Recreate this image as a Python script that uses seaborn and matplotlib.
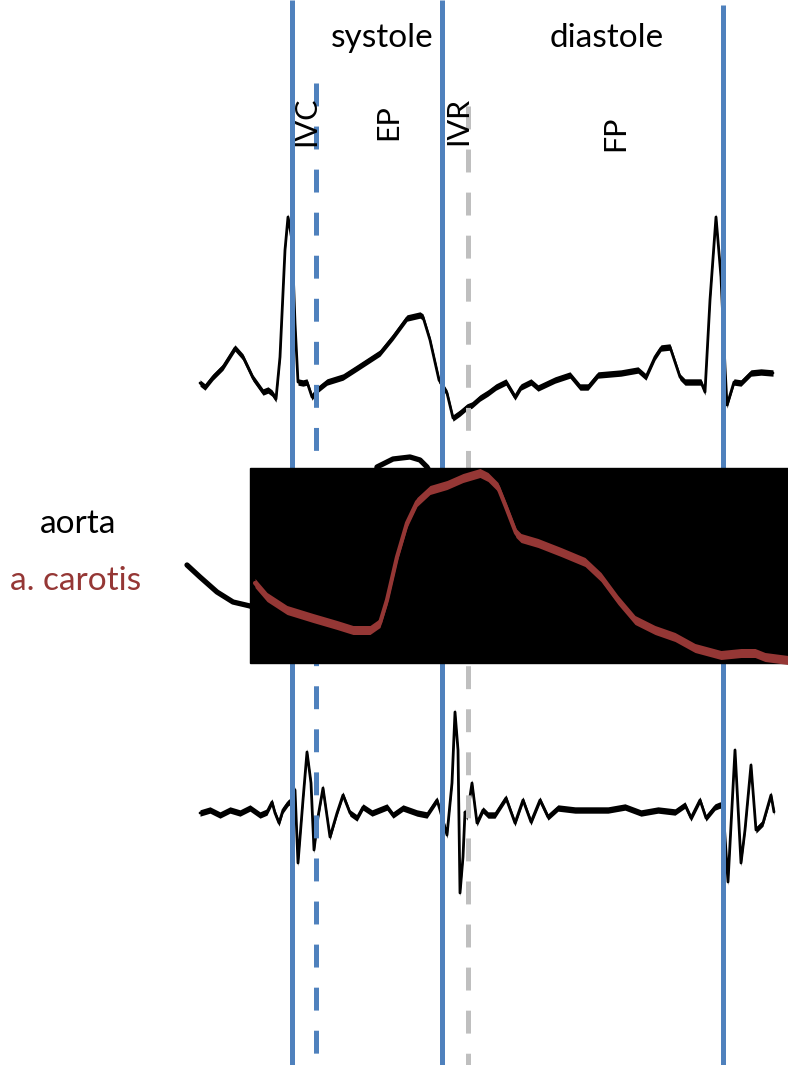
import numpy as np
import matplotlib
matplotlib.use("Agg")
import matplotlib.pyplot as plt
from matplotlib.patches import Rectangle
import seaborn as sns

sns.set_style("white")
plt.rcParams['font.family'] = ['Lato', 'DejaVu Sans']
plt.rcParams['lines.scale_dashes'] = False
plt.rcParams['text.color'] = 'black'

# canvas in pixel units (x = time axis, y grows downward)
W, H = 788, 1065

# ECG trace
ecg_x = [200, 205, 213, 223, 235, 243, 253, 263, 268, 272, 276, 280, 285, 288, 292, 295, 298,
         303, 307, 312, 317, 327, 343, 357, 380, 393, 407, 420, 423, 430, 439, 447, 453, 460,
         467, 472, 480, 488, 496, 506, 515, 521, 531, 538, 555, 570, 580, 588, 598, 621, 638,
         646, 655, 661, 670, 680, 685, 701, 705, 710, 716, 721, 725, 727, 734, 741, 751, 761, 773]
ecg_y = [383, 387, 377, 367, 348, 357, 378, 392, 390, 393, 399, 357, 250, 217, 240, 323, 382,
         383, 382, 397, 390, 382, 377, 368, 353, 337, 318, 315, 317, 340, 380, 393, 418, 413,
         407, 405, 398, 393, 387, 382, 397, 387, 382, 388, 380, 375, 387, 387, 375, 373, 370,
         377, 357, 348, 347, 377, 382, 382, 392, 300, 217, 277, 367, 405, 382, 383, 373, 372, 373]

# aorta pressure (mostly hidden behind the black panel)
aorta_x = [187, 200, 217, 233, 250, 300, 350, 365, 377, 393, 410, 420, 427, 440, 470, 520, 600, 700, 788]
aorta_y = [565, 577, 592, 602, 606, 625, 630, 600, 467, 459, 457, 460, 467, 490, 540, 560, 610, 640, 650]

# a. carotis pressure
carotis_x = [255, 267, 287, 313, 337, 353, 370, 380, 387, 397, 407, 417, 430, 447, 463, 480, 488,
             498, 506, 516, 521, 538, 561, 585, 601, 618, 635, 655, 675, 695, 721, 741, 755, 765, 788]
carotis_y = [583, 597, 610, 618, 625, 630, 630, 623, 600, 557, 523, 502, 490, 485, 478, 473, 477,
             487, 507, 533, 538, 543, 552, 562, 577, 600, 620, 630, 637, 648, 655, 653, 653, 657, 660]

# phonocardiogram
pcg_x = [200, 210, 220, 230, 240, 250, 260, 267, 272, 275, 279, 283, 288, 292, 295, 298, 303, 307,
         311, 314, 318, 323, 330, 337, 343, 350, 357, 363, 372, 387, 393, 403, 417, 427, 437, 440,
         447, 452, 455, 458, 460, 463, 465, 467, 472, 477, 483, 488, 495, 506, 515, 523, 531, 540,
         548, 558, 575, 591, 608, 625, 641, 658, 675, 685, 691, 700, 706, 715, 720, 723, 728, 735,
         741, 745, 751, 756, 763, 771, 774]
pcg_y = [813, 810, 815, 810, 813, 808, 815, 812, 802, 813, 823, 810, 803, 800, 790, 863, 800, 752,
         783, 850, 817, 788, 837, 813, 795, 813, 818, 807, 813, 807, 815, 808, 813, 815, 800, 810,
         835, 783, 712, 750, 893, 857, 812, 817, 783, 823, 810, 815, 815, 798, 823, 800, 822,
         800, 817, 808, 810, 810, 810, 807, 813, 810, 812, 805, 818, 800, 818, 807, 805, 807, 882,
         750, 863, 830, 765, 830, 823, 795, 812]

# phase boundaries
solid_x = [292, 442, 723]
solid_top = [0, 0, 5]
ivc_x, ivc_top = 316, 83
ivr_x, ivr_top = 468, 106

# black panel behind the carotis trace
panel_x0, panel_x1 = 250, 788
panel_y0, panel_y1 = 468, 663

phase_labels = ['systole', 'diastole']
phase_pos = [(382, 47), (607, 47)]
sub_labels = ['IVC', 'EP', 'IVR', 'FP']
sub_pos = [(306, 121), (388, 122), (458, 121), (615, 133)]

blue = '#4F81BD'
grey = '#BFBFBF'
red = '#953735'

fig = plt.figure(figsize=(W / 100, H / 100), dpi=100)
ax = fig.add_axes([0, 0, 1, 1])


def trace(x, y, half, lw, color, z):
    x = np.array(x, float)
    y = np.array(y, float)
    ax.fill_between(x, y - half, y + half, color=color, lw=0, zorder=z)
    sns.lineplot(x=x, y=y, sort=False, estimator=None, color=color, lw=lw,
                 ax=ax, zorder=z)


trace(ecg_x, ecg_y, 3.2, 2.0, 'black', 1)
trace(pcg_x, pcg_y, 3.2, 2.0, 'black', 1)
sns.lineplot(x=aorta_x, y=aorta_y, sort=False, estimator=None, color='black', lw=3.8,
             ax=ax, zorder=1)

for x, top in zip(solid_x, solid_top):
    ax.plot([x, x], [top, H], color=blue, lw=3.6, solid_capstyle='butt', zorder=2)
ax.plot([ivc_x, ivc_x], [ivc_top, H], color=blue, lw=3.6, dashes=(16.5, 14.5), zorder=2)
ax.plot([ivr_x, ivr_x], [ivr_top, H], color=grey, lw=3.6, dashes=(16.5, 14.5), zorder=2)

ax.add_patch(Rectangle((panel_x0, panel_y0), panel_x1 - panel_x0, panel_y1 - panel_y0,
                       color='black', zorder=3))
trace(carotis_x, carotis_y, 4.5, 3.0, red, 4)

for lab, (x, y) in zip(phase_labels, phase_pos):
    ax.text(x, y, lab, fontsize=24, ha='center', va='baseline', color='black', zorder=5)
for lab, (x, y) in zip(sub_labels, sub_pos):
    ax.text(x, y, lab, fontsize=22, ha='center', va='center', rotation=90,
            color='black', zorder=5)

ax.text(78, 533, 'aorta', fontsize=24, ha='center', va='baseline', color='black')
ax.text(76, 590, 'a. carotis', fontsize=24, ha='center', va='baseline', color=red)

ax.set_xlim(0, W)
ax.set_ylim(H, 0)
ax.axis('off')
fig.savefig('out.png', dpi=100, facecolor='white')
